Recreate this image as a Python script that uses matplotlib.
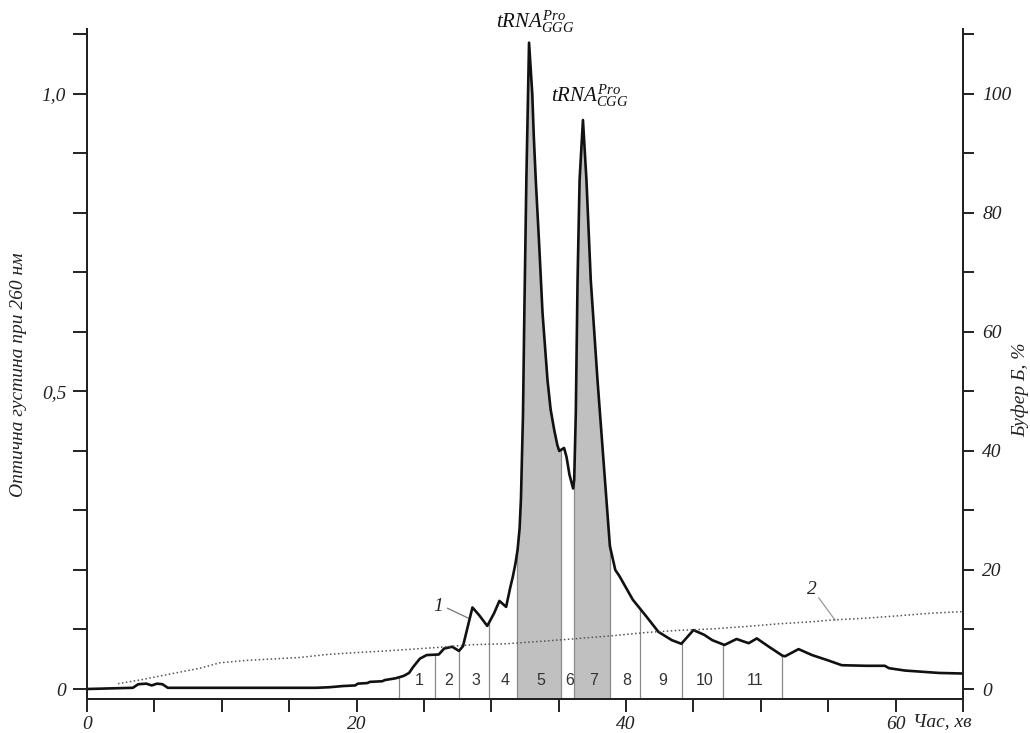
import numpy as np
import matplotlib
matplotlib.use("Agg")
import matplotlib.pyplot as plt
from matplotlib.ticker import MultipleLocator, FuncFormatter

plt.rcParams['mathtext.fontset'] = 'custom'
plt.rcParams['mathtext.rm'] = 'Liberation Serif'
plt.rcParams['mathtext.it'] = 'Liberation Serif:italic'

# ---- data ----
time_od = [0.0, 3.4, 3.8, 4.4, 4.8, 5.2, 5.6, 6.0, 10.0, 15.0, 17.0, 18.0, 19.0, 19.9,
           20.1, 20.8, 21.0, 21.9, 22.1, 22.9, 23.5, 23.9, 24.2, 24.7, 25.2, 26.1, 26.5,
           27.1, 27.6, 27.9, 28.2, 28.6, 29.1, 29.7, 30.2, 30.6, 31.1, 31.4, 31.6, 31.8,
           31.95, 32.1, 32.2, 32.35, 32.45, 32.6, 32.8, 33.04, 33.15, 33.3, 33.56, 33.8,
           34.17, 34.4, 34.67, 34.9, 35.04, 35.4, 35.58, 35.8, 36.07, 36.15, 36.27, 36.4,
           36.55, 36.8, 37.06, 37.38, 37.88, 38.37, 38.8, 39.2, 39.5, 40.5, 41.5, 42.4, 43.4,
           44.1, 45.0, 45.8, 46.4, 47.3, 48.2, 48.7, 49.1, 49.7, 50.6, 51.6, 51.8, 52.8, 53.8,
           55.0, 56.0, 57.8, 59.2, 59.5, 60.7, 63.2, 65.0]
od260 = [0.000, 0.002, 0.008, 0.009, 0.006, 0.009, 0.008, 0.002, 0.002, 0.002, 0.002, 0.003,
         0.005, 0.006, 0.009, 0.010, 0.012, 0.013, 0.015, 0.018, 0.022, 0.027, 0.037, 0.051,
         0.057, 0.058, 0.068, 0.071, 0.064, 0.072, 0.100, 0.137, 0.124, 0.106, 0.127, 0.148,
         0.138, 0.170, 0.189, 0.212, 0.234, 0.27, 0.32, 0.46, 0.63, 0.855, 1.086, 1.00, 0.93,
         0.855, 0.743, 0.632, 0.519, 0.47, 0.435, 0.41, 0.400, 0.405, 0.39, 0.36, 0.337,
         0.351, 0.464, 0.687, 0.855, 0.956, 0.855, 0.687, 0.519, 0.37, 0.24, 0.20, 0.19,
         0.15, 0.122, 0.096, 0.082, 0.076, 0.099, 0.091, 0.082, 0.074, 0.084, 0.080, 0.077,
         0.085, 0.071, 0.056, 0.055, 0.067, 0.057, 0.048, 0.040, 0.039, 0.039, 0.035, 0.031,
         0.027, 0.026]

time_buf = [2.3, 3.9, 5.9, 8.4, 9.85, 11.8, 13.8, 15.8, 17.8, 20.2, 22.2, 24.2, 26.1, 28.6,
            31.1, 33.6, 36.0, 39.0, 41.5, 43.9, 46.4, 48.9, 51.3, 53.8, 55.3, 57.8, 60.2,
            62.7, 65.0]
buffer_b = [0.9, 1.5, 2.4, 3.5, 4.4, 4.8, 5.05, 5.3, 5.8, 6.15, 6.4, 6.7, 7.0, 7.45, 7.6,
            8.0, 8.4, 8.95, 9.5, 9.85, 10.1, 10.5, 10.95, 11.3, 11.6, 11.9, 12.3, 12.75, 13.0]

fraction_bounds = [23.13, 25.85, 27.58, 29.8, 31.9, 35.16, 36.1, 38.79, 41.04, 44.13, 47.2, 51.58]
fraction_labels = ['1', '2', '3', '4', '5', '6', '7', '8', '9', '10', '11']
shaded_fractions = ['5', '7']

peak_labels = [r'$tRNA^{Pro}_{GGG}$', r'$tRNA^{Pro}_{CGG}$']

# ---- figure ----
W, H = 1030, 733
fig = plt.figure(figsize=(W / 100, H / 100), dpi=100)
ax = fig.add_axes([87 / W, 1 - 699 / H, (963 - 87) / W, (699 - 29) / H])
ax2 = ax.twinx()

ymin, ymax = -0.0168, 1.109
ax.set_xlim(0, 65)
ax.set_ylim(ymin, ymax)
ax2.set_ylim(ymin * 100, ymax * 100)

t = np.array(time_od)
v = np.array(od260)

# shaded fractions
for i, lab in enumerate(fraction_labels):
    a, b = fraction_bounds[i], fraction_bounds[i + 1]
    if lab in shaded_fractions:
        inside = (t > a) & (t < b)
        tx = np.concatenate([[a], t[inside], [b]])
        vx = np.interp(tx, t, v)
        ax.fill_between(tx, ymin, vx, color='#c0c0c0', lw=0, zorder=1)

# fraction boundary lines
for fb in fraction_bounds:
    ax.plot([fb, fb], [ymin, np.interp(fb, t, v)], color='#8a8a8a', lw=0.9, zorder=2)

# fraction numbers
for i, lab in enumerate(fraction_labels):
    mid = 0.5 * (fraction_bounds[i] + fraction_bounds[i + 1])
    ax.text(mid + 0.15, 0.014, lab, ha='center', va='center', fontsize=11.5,
            family='Liberation Sans', color='#333333', zorder=3)

# curves
ax.plot(t, v, color='#111111', lw=1.9, zorder=4, solid_joinstyle='round')
ax2.plot(time_buf, buffer_b, color='#555555', lw=1.1, ls=(0, (1, 1.6)), zorder=4)

# curve annotations
ax.plot([26.76, 28.3], [0.1356, 0.119], color='#777777', lw=0.9)
ax.text(26.4, 0.138, '1', fontsize=14, family='Liberation Serif', style='italic',
        ha='right', va='center', color='#222222')
ax.plot([54.3, 55.5], [0.153, 0.116], color='#999999', lw=0.9)
ax.text(53.8, 0.168, '2', fontsize=14, family='Liberation Serif', style='italic',
        ha='center', va='center', color='#222222')

# peak labels
ax.text(30.37, 1.111, peak_labels[0], fontsize=15, ha='left', va='baseline',
        color='#111111', clip_on=False)
ax.text(34.44, 0.987, peak_labels[1], fontsize=15, ha='left', va='baseline',
        color='#111111', clip_on=False)

# axes styling
for a_ in (ax, ax2):
    a_.spines['top'].set_visible(False)
    for s in ('left', 'right', 'bottom'):
        a_.spines[s].set_linewidth(1.4)
        a_.spines[s].set_color('#222222')

serif = dict(family='Liberation Serif', style='italic', size=14)

ax.xaxis.set_major_locator(MultipleLocator(5))
ax.xaxis.set_major_formatter(FuncFormatter(lambda x, p: f'{int(round(x))}' if round(x) % 20 == 0 else ''))
ax.yaxis.set_major_locator(MultipleLocator(0.1))
ax.yaxis.set_major_formatter(FuncFormatter(
    lambda y, p: {0: '0', 5: '0,5', 10: '1,0'}.get(int(round(y * 10)), '')))
ax2.yaxis.set_major_locator(MultipleLocator(10))
ax2.yaxis.set_major_formatter(FuncFormatter(
    lambda y, p: f'{int(round(y))}' if int(round(y)) % 20 == 0 else ''))

ax.tick_params(axis='x', direction='out', length=9, width=1.4, pad=3, colors='#222222')
ax.tick_params(axis='y', direction='out', length=10, width=1.4, pad=5, colors='#222222')
ax2.tick_params(axis='y', direction='out', length=8, width=1.4, pad=6, colors='#222222')
for lbl in ax.get_xticklabels() + ax.get_yticklabels() + ax2.get_yticklabels():
    lbl.set_fontfamily('Liberation Serif')
    lbl.set_fontstyle('italic')
    lbl.set_fontsize(14)
    lbl.set_color('#222222')

fig.text(19 / W, 1 - 375 / H, 'Оптична густина при 260 нм', rotation=90,
         ha='center', va='center', color='#222222', **serif)
fig.text(1020 / W, 1 - 390 / H, 'Буфер Б, %', rotation=90,
         ha='center', va='center', color='#222222', **serif)
fig.text(913 / W, 1 - 722 / H, 'Час, хв', ha='left', va='center', color='#222222', **serif)

fig.savefig('out.png', dpi=100, facecolor='white')
